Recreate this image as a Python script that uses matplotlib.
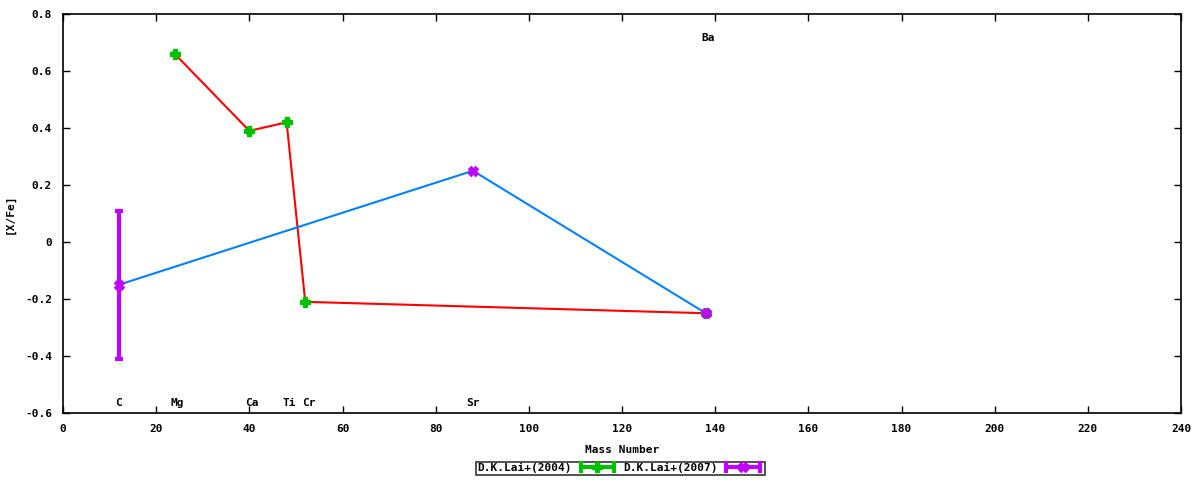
import matplotlib
matplotlib.use('Agg')
import matplotlib.pyplot as plt
from matplotlib.lines import Line2D
from matplotlib.legend_handler import HandlerLine2D, HandlerTuple

plt.rcParams['font.family'] = ['DejaVu Sans Mono']
plt.rcParams['font.weight'] = 'bold'
plt.rcParams['font.size'] = 8

# D.K.Lai+(2004)
mass_04 = [24, 40, 48, 52, 138]
xfe_04 = [0.66, 0.39, 0.42, -0.21, -0.25]
err_04 = [0, 0, 0, 0, 0]

# D.K.Lai+(2007)
mass_07 = [12, 88, 138]
xfe_07 = [-0.15, 0.25, -0.25]
err_07 = [0.26, 0, 0]

# element labels
elements = ['C', 'Mg', 'Ca', 'Ti', 'Cr', 'Sr', 'Ba']
elem_mass = [12, 24.5, 40.5, 48.5, 52.8, 88, 138.5]
elem_y = [-0.565, -0.565, -0.565, -0.565, -0.565, -0.565, 0.715]

green = '#00c000'
purple = '#c000ff'

fig = plt.figure(figsize=(12, 4.8), dpi=100)
ax = fig.add_axes([0.0525, 0.1396, 0.9317, 0.8312])

ax.plot(mass_04, xfe_04, color='#ff0000', lw=1.5, zorder=2)
ax.plot(mass_07, xfe_07, color='#0080ff', lw=1.5, zorder=2)

ax.errorbar(mass_04, xfe_04, yerr=err_04, fmt='P', color=green, ms=7,
            capsize=3, elinewidth=3, capthick=3, zorder=3)
ax.errorbar(mass_07, xfe_07, yerr=err_07, fmt='X', color=purple, ms=7,
            capsize=3, elinewidth=3, capthick=3, zorder=4)

for name, m, yy in zip(elements, elem_mass, elem_y):
    ax.text(m, yy, name, ha='center', va='center', fontsize=8, fontweight='bold')

ax.set_xlim(0, 240)
ax.set_ylim(-0.6, 0.8)
ax.set_xticks(range(0, 241, 20))
ax.set_yticks([-0.6, -0.4, -0.2, 0, 0.2, 0.4, 0.6, 0.8])
ax.set_yticklabels(['-0.6', '-0.4', '-0.2', '0', '0.2', '0.4', '0.6', '0.8'])
ax.tick_params(direction='in', top=True, right=True, length=5, width=1, labelsize=8, pad=8)
for s in ax.spines.values():
    s.set_linewidth(1.2)
ax.set_xlabel('Mass Number', fontsize=8, fontweight='bold', labelpad=8)
ax.set_ylabel('[X/Fe]', fontsize=8, fontweight='bold')
ax.yaxis.set_label_coords(-0.043, 0.5)

# legend samples in gnuplot style (text then sample)
g_bar = Line2D([], [], color=green, lw=3, marker='|', ms=9, mew=3)
g_pt = Line2D([], [], color=green, lw=0, marker='P', ms=7)
p_bar = Line2D([], [], color=purple, lw=3, marker='|', ms=9, mew=3)
p_pt = Line2D([], [], color=purple, lw=0, marker='X', ms=7)
hmap = {g_bar: HandlerLine2D(numpoints=2), p_bar: HandlerLine2D(numpoints=2),
        g_pt: HandlerLine2D(numpoints=1), p_pt: HandlerLine2D(numpoints=1)}
leg = fig.legend([(g_bar, g_pt), (p_bar, p_pt)], ['D.K.Lai+(2004)', 'D.K.Lai+(2007)'],
                 handler_map={tuple: HandlerTuple(ndivide=1), **hmap},
                 loc='center', bbox_to_anchor=(0.5167, 0.0245), ncol=2, markerfirst=False,
                 frameon=True, fancybox=False, edgecolor='black', borderpad=0.15,
                 handlelength=3.6, columnspacing=0.5, handletextpad=0.5,
                 borderaxespad=0,
                 prop={'family': 'DejaVu Sans Mono', 'weight': 'bold', 'size': 8})
leg.get_frame().set_linewidth(1.2)

fig.savefig('out.png', dpi=100)
